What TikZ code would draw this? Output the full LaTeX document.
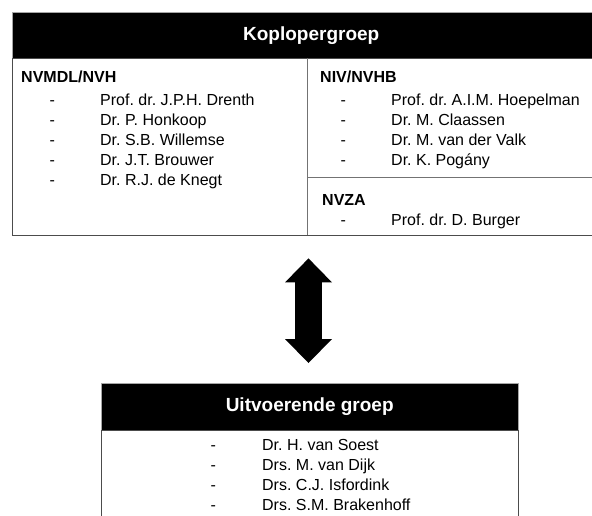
\documentclass[tikz,border=0pt]{standalone}
\usepackage{fontspec}
\setmainfont{Liberation Sans}
\frenchspacing
\usetikzlibrary{arrows.meta, positioning}

\begin{document}
\begin{tikzpicture}[
    x=1bp, y=-1bp,
    font=\fontsize{16bp}{20bp}\selectfont,
    headband/.style={rectangle, draw=black!35, fill=black, text=white, font=\fontsize{19bp}{22bp}\selectfont\bfseries, anchor=north west, inner sep=0pt},
    panel/.style={rectangle, draw=black!70, line width=1bp, anchor=north west, inner sep=0pt},
    divider/.style={draw=black!55, line width=1bp},
    subhead/.style={anchor=base west, inner sep=0pt, font=\fontsize{16bp}{20bp}\selectfont\bfseries},
    entry/.style={anchor=base west, inner sep=0pt},
    bigarrow/.style={line width=27bp, {Triangle[length=24bp, width=47bp, line width=0pt]}-{Triangle[length=24bp, width=47bp, line width=0pt]}}
]
\useasboundingbox (0,0) rectangle (592,516);

% Koplopergroep
\node[headband, minimum width=598bp, minimum height=46bp] (kophead) at (12,12) {Koplopergroep};
\node[panel, minimum width=598bp, minimum height=177bp] (kopbody) at (kophead.south west) {};
\draw[divider] (307,58) -- (307,235);
\draw[divider] (307,178) -- (610,178);

\node[subhead] (nvmdl) at (21,82.7) {NVMDL/NVH};
\foreach \who [count=\i] in {Prof. dr. J.P.H. Drenth, Dr. P. Honkoop, Dr. S.B. Willemse, Dr. J.T. Brouwer, Dr. R.J. de Knegt}
    \node[entry] (nvmdl-\i) at (49.5,85.7+20*\i) {\makebox[50.5bp][l]{-}\who};

\node[subhead] (niv) at (320,82.7) {NIV/NVHB};
\foreach \who [count=\i] in {Prof. dr. A.I.M. Hoepelman, Dr. M. Claassen, Dr. M. van der Valk, Dr. K. Pogány}
    \node[entry] (niv-\i) at (340.5,85.7+20*\i) {\makebox[50.5bp][l]{-}\who};

\node[subhead] (nvza) at (322,205.7) {NVZA};
\node[entry] (nvza-1) at (340.5,225.7) {\makebox[50.5bp][l]{-}Prof. dr. D. Burger};

% Uitvoerende groep
\node[headband, minimum width=417bp, minimum height=47bp] (uitvhead) at (101,383) {Uitvoerende groep};
\node[panel, minimum width=417bp, minimum height=120bp] (uitvbody) at (uitvhead.south west) {};
\foreach \who [count=\i] in {Dr. H. van Soest, Drs. M. van Dijk, Drs. C.J. Isfordink, Drs. S.M. Brakenhoff}
    \node[entry] (uitv-\i) at (210.5,430.7+20*\i) {\makebox[51.5bp][l]{-}\who};

% link
\draw[bigarrow, shorten <=22bp, shorten >=20bp] (kopbody.south -| 308.5,0) -- (uitvhead.north -| 308.5,0);

\end{tikzpicture}
\end{document}
